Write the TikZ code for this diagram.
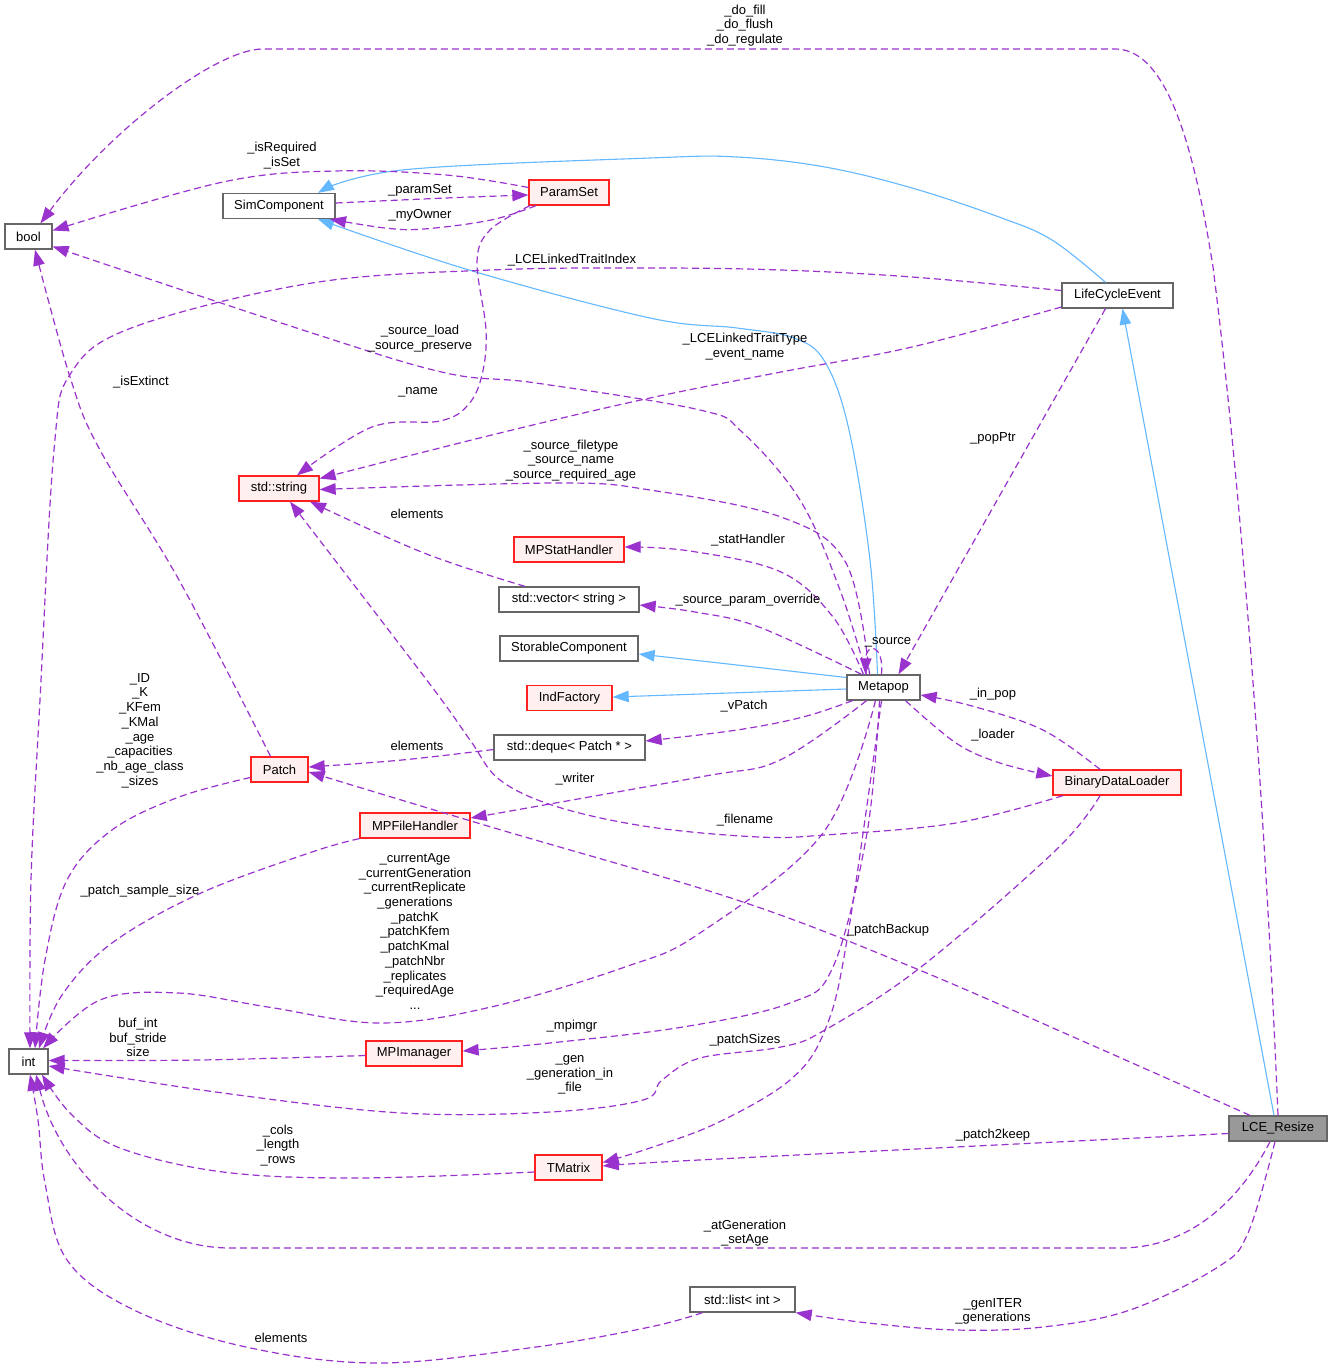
\documentclass[tikz,border=0pt]{standalone}
\usepackage{fontspec}
\setmainfont{Liberation Sans}
\usetikzlibrary{arrows.meta,calc}
\definecolor{purp}{HTML}{9A32CD}
\definecolor{inh}{HTML}{63B8FF}
\definecolor{bordergray}{HTML}{666666}
\definecolor{redfill}{HTML}{FFF0F0}
\definecolor{redline}{HTML}{FF2020}
\definecolor{lcefill}{HTML}{999999}
\begin{document}
\begin{tikzpicture}[x=1pt,y=-1pt,
  box/.style={draw=bordergray, line width=1.3pt, fill=white, minimum height=25pt, inner sep=0pt, font=\fontsize{13}{15}\selectfont},
  rbox/.style={box, draw=redline, fill=redfill},
  gbox/.style={box, fill=lcefill},
  pe/.style={draw=purp, line width=1.2pt, dash pattern=on 7pt off 4pt, -{Triangle[length=16pt,width=11.5pt]}},
  be/.style={draw=inh, line width=1.1pt, -{Triangle[length=16pt,width=11.5pt]}},
  lbl/.style={align=center, inner sep=0pt, font=\fontsize{13}{14.7}\selectfont}]
\useasboundingbox (0,0) rectangle (1332,1370);
\fill[white] (0,0) rectangle (1332,1370);

% ---------- nodes ----------
\node[box, minimum width=47pt] (bool) at (28.5,236.5) {bool};
\node[box, minimum width=112pt] (SC) at (279,206) {SimComponent};
\node[rbox, minimum width=80pt] (PS) at (569,192.5) {ParamSet};
\node[box, minimum width=111pt] (LCEv) at (1117.5,295.5) {LifeCycleEvent};
\node[rbox, minimum width=80pt] (str) at (279,488.5) {std::string};
\node[rbox, minimum width=110pt] (MPS) at (569,549.5) {MPStatHandler};
\node[box, minimum width=140pt] (vec) at (569,599.5) {std::vector< string >};
\node[box, minimum width=138pt] (sto) at (569,648.5) {StorableComponent};
\node[rbox, minimum width=85pt] (IF) at (569.5,698) {IndFactory};
\node[box, minimum width=151pt] (dq) at (569.5,747.5) {std::deque< Patch * >};
\node[box, minimum width=73pt] (MP) at (883.5,687.5) {Metapop};
\node[rbox, minimum width=128pt] (BDL) at (1117,782.5) {BinaryDataLoader};
\node[rbox, minimum width=57pt] (Patch) at (279.5,769.5) {Patch};
\node[rbox, minimum width=110pt] (MFH) at (415,825.5) {MPFileHandler};
\node[box, minimum width=39pt] (int) at (28.5,1061.5) {int};
\node[rbox, minimum width=96pt] (MPI) at (414,1053.5) {MPImanager};
\node[rbox, minimum width=67pt] (TM) at (568.5,1167.5) {TMatrix};
\node[gbox, minimum width=98pt] (LCER) at (1278,1128.5) {LCE\_Resize};
\node[box, minimum width=105pt] (lst) at (742.5,1299.5) {std::list< int >};

% ---------- inheritance (blue) ----------
\draw[be] plot[smooth, tension=0.6] coordinates {([xshift=-12pt]LCEv.north) (1052,240) (999,217) (912,188) (825,167) (737,157) (650,158) (402,170) ([xshift=39pt]SC.north)};
\draw[be] plot[smooth, tension=0.6] coordinates {([xshift=-6pt]MP.north) (870,560) (849,430) (825,362) (794,338) (737,328) (650,318) (469,270) ([xshift=39pt]SC.south)};
\draw[be] plot[smooth, tension=0.6] coordinates {([yshift=10pt]MP.west) (737,665) ([yshift=-5.5pt]sto.east)};
\draw[be] ([yshift=-1.5pt]MP.west) -- ([yshift=1pt]IF.east);
\draw[be] ([xshift=-4pt]LCER.north) -- ([xshift=5pt]LCEv.south);

% ---------- usage (purple dashed) ----------
% LCE_Resize -> bool
\draw[pe] (LCER.north) .. controls (1265,800) and (1240,480) .. (1213,267)
  .. controls (1190,120) and (1160,49) .. (1115,49) -- (262,49)
  .. controls (215,50) and (110,130) .. ([xshift=12pt]bool.north);
% ParamSet -> bool
\draw[pe] plot[smooth, tension=0.6] coordinates {([yshift=5pt]PS.west) (446,175) (335,171) (223,182) ([yshift=6pt]bool.east)};
% SimComponent -> ParamSet
\draw[pe] plot[smooth, tension=0.6] coordinates {([yshift=3pt]SC.east) (446,198) ([yshift=-2.5pt]PS.west)};
% ParamSet -> SimComponent
\draw[pe] plot[smooth, tension=0.6] coordinates {([xshift=-33pt]PS.south) (491,220) (424,229) (385,228) ([xshift=51pt]SC.south)};
% LifeCycleEvent -> int
\draw[pe] plot[smooth, tension=0.6] coordinates {([yshift=5pt]LCEv.west) (912,277) (781,270) (650,268) (491,270) (312,283) (134,327) (71,373) (54,450) (40,700) (31,880) ([xshift=1.5pt]int.north)};
% LifeCycleEvent -> string
\draw[pe] plot[smooth, tension=0.6] coordinates {([yshift=-11.5pt]LCEv.west) (912,347) (781,372) (650,398) (504,432) ([yshift=10pt]str.east)};
% ParamSet -> string (_name)
\draw[pe] plot[smooth, tension=0.6] coordinates {([xshift=-39pt]PS.south) (490,230) (477,262) (486,330) (482,375) (468,405) (440,421) (372,427) ([xshift=18pt]str.north)};
% Metapop -> bool
\draw[pe] plot[smooth, tension=0.6] coordinates {([xshift=-17pt]MP.north) (840,590) (800,500) (742,432) (700,410) (536,383) (446,373) (312,333) ([yshift=-10pt]bool.east)};
% Metapop -> string
\draw[pe] plot[smooth, tension=0.6] coordinates {([xshift=-14pt]MP.north) (846,563) (781,517) (650,490) (558,483) ([yshift=-1pt]str.east)};
% Metapop -> MPStatHandler
\draw[pe] plot[smooth, tension=0.6] coordinates {([xshift=-20pt]MP.north) (833,617) (781,572) (690,551) ([yshift=2.5pt]MPS.east)};
% Metapop -> vector
\draw[pe] plot[smooth, tension=0.6] coordinates {([xshift=-22pt]MP.north) (759,627) (695,612) ([yshift=-5.5pt]vec.east)};
% vector -> string
\draw[pe] plot[smooth, tension=0.6] coordinates {([xshift=-44pt]vec.north) (424,553) ([xshift=31pt]str.south)};
% Metapop self loop
\draw[pe] ([xshift=-2pt]MP.north) .. controls (884,643) and (866,643) .. ([xshift=-18pt]MP.north);
% LifeCycleEvent -> Metapop
\draw[pe] ([xshift=-12pt]LCEv.south) -- ([xshift=15pt]MP.north);
% Metapop -> deque
\draw[pe] plot[smooth, tension=0.6] coordinates {([xshift=-31pt]MP.south) (803,717) (737,730) ([yshift=6.5pt]dq.east)};
% Metapop -> MPFileHandler
\draw[pe] plot[smooth, tension=0.6] coordinates {([xshift=-17pt]MP.south) (780,760) (700,777) ([yshift=7.5pt]MFH.east)};
% Metapop -> int
\draw[pe] plot[smooth, tension=0.6] coordinates {([xshift=-8pt]MP.south) (823,833) (700,933) (625,967) (491,1007) (380,1023) (268,1007) (178,993) (100,1000) ([xshift=14.5pt]int.north)};
% Metapop -> MPImanager
\draw[pe] plot[smooth, tension=0.6] coordinates {([xshift=-4pt]MP.south) (867,833) (833,967) (790,1003) (683,1027) (550,1043) ([yshift=2.5pt]MPI.east)};
% Metapop -> TMatrix
\draw[pe] plot[smooth, tension=0.6] coordinates {([xshift=-2pt]MP.south) (847,940) (825,1030) (790,1080) (717,1123) (650,1148) ([yshift=5pt]TM.east)};
% BinaryDataLoader -> Metapop
\draw[pe] plot[smooth, tension=0.6] coordinates {([xshift=-17pt]BDL.north) (1043,730) (972,706) ([yshift=-7.5pt]MP.east)};
% Metapop -> BinaryDataLoader
\draw[pe] plot[smooth, tension=0.6] coordinates {([xshift=22pt]MP.south) (956,743) (1000,763) ([yshift=6.5pt]BDL.west)};
% BinaryDataLoader -> string
\draw[pe] plot[smooth, tension=0.6] coordinates {([xshift=-54pt]BDL.south) (956,823) (825,835) (759,837) (650,827) (558,807) (500,780) (470,740) (429,683) ([xshift=11pt]str.south)};
% BinaryDataLoader -> int
\draw[pe] plot[smooth, tension=0.6] coordinates {([xshift=-17pt]BDL.south) (1056,850) (921,967) (825,1030) (781,1047) (700,1058) (662,1080) (643,1100) (550,1112) (402,1113) (223,1093) ([yshift=-4.5pt]int.east)};
% MPImanager -> int
\draw[pe] plot[smooth, tension=0.6] coordinates {([yshift=-2pt]MPI.west) (200,1060) ([yshift=1pt]int.east)};
% TMatrix -> int
\draw[pe] plot[smooth, tension=0.6] coordinates {([yshift=-4.5pt]TM.west) (357,1178) (223,1172) (120,1148) (72,1115) ([xshift=13.5pt]int.south)};
% LCE_Resize -> int
\draw[pe] ([xshift=-8pt]LCER.south) .. controls (1240,1200) and (1190,1248) .. (1120,1248) -- (230,1248)
  .. controls (140,1248) and (60,1170) .. ([xshift=7.5pt]int.south);
% list -> int
\draw[pe] plot[smooth, tension=0.6] coordinates {([xshift=-40pt]lst.south) (650,1327) (536,1347) (379,1363) (246,1347) (134,1310) (67,1260) (45,1183) (38,1120) ([xshift=1.5pt]int.south)};
% LCE_Resize -> list
\draw[pe] plot[smooth, tension=0.6] coordinates {([xshift=-3pt]LCER.south) (1248,1233) (1218,1267) (1130,1310) (1043,1327) (956,1330) (868,1323) (lst.south east)};
% LCE_Resize -> TMatrix
\draw[pe] plot[smooth, tension=0.6] coordinates {([yshift=-5pt]LCER.west) (956,1147) (680,1161) ([yshift=1.5pt]TM.east)};
% LCE_Resize -> Patch
\draw[pe] plot[smooth, tension=0.6] coordinates {([xshift=-28pt]LCER.north) (1087,1043) (912,967) (737,900) (491,827) ([yshift=-2.5pt]Patch.east)};
% Patch -> int
\draw[pe] plot[smooth, tension=0.6] coordinates {([yshift=-8pt]Patch.west) (179,797) (112,830) (67,880) (45,960) ([xshift=6.5pt]int.north)};
% MPFileHandler -> int
\draw[pe] plot[smooth, tension=0.6] coordinates {(MFH.south west) (312,852) (201,893) (112,943) (62,995) ([xshift=10.5pt]int.north)};
% Patch -> bool
\draw[pe] plot[smooth, tension=0.6] coordinates {([xshift=-9pt]Patch.north) (179,580) (100,450) (70,377) ([xshift=6.5pt]bool.south)};
% deque -> Patch
\draw[pe] plot[smooth, tension=0.6] coordinates {([yshift=-2pt]dq.west) (402,760) ([yshift=2.5pt]Patch.east)};

% ---------- labels ----------
\node[lbl] (l1) at (745,25.5) {\_do\_fill\\\_do\_flush\\\_do\_regulate};
\node[lbl] (l2) at (282,155.5) {\_isRequired\\\_isSet};
\node[lbl] (l3) at (420,190) {\_paramSet};
\node[lbl] (l4) at (420,215) {\_myOwner};
\node[lbl] (l5) at (572,260) {\_LCELinkedTraitIndex};
\node[lbl] (l6) at (420,338.5) {\_source\_load\\\_source\_preserve};
\node[lbl] (l7) at (745,346.5) {\_LCELinkedTraitType\\\_event\_name};
\node[lbl] (l8) at (141,382) {\_isExtinct};
\node[lbl] (l9) at (418,392) {\_name};
\node[lbl] (l10) at (993,438) {\_popPtr};
\node[lbl] (l11) at (571,460.5) {\_source\_filetype\\\_source\_name\\\_source\_required\_age};
\node[lbl] (l12) at (417,514) {elements};
\node[lbl] (l13) at (748,540) {\_statHandler};
\node[lbl] (l14) at (748,600) {\_source\_param\_override};
\node[lbl] (l15) at (888,642) {\_source};
\node[lbl] (l16) at (140,730.5) {\_ID\\\_K\\\_KFem\\\_KMal\\\_age\\\_capacities\\\_nb\_age\_class\\\_sizes};
\node[lbl] (l17) at (993,694) {\_in\_pop};
\node[lbl] (l18) at (744,706) {\_vPatch};
\node[lbl] (l19) at (993,735) {\_loader};
\node[lbl] (l20) at (417,746) {elements};
\node[lbl] (l21) at (575,779) {\_writer};
\node[lbl] (l22) at (745,820) {\_filename};
\node[lbl] (l23) at (415,931.5) {\_currentAge\\\_currentGeneration\\\_currentReplicate\\\_generations\\\_patchK\\\_patchKfem\\\_patchKmal\\\_patchNbr\\\_replicates\\\_requiredAge\\...};
\node[lbl] (l24) at (140,891) {\_patch\_sample\_size};
\node[lbl] (l25) at (888,930) {\_patchBackup};
\node[lbl] (l26) at (138,1037.5) {buf\_int\\buf\_stride\\size};
\node[lbl] (l27) at (572,1026) {\_mpimgr};
\node[lbl] (l28) at (745,1040) {\_patchSizes};
\node[lbl] (l29) at (570,1075) {\_gen\\\_generation\_in\\\_file};
\node[lbl] (l30) at (278,1145.5) {\_cols\\\_length\\\_rows};
\node[lbl] (l31) at (993,1135) {\_patch2keep};
\node[lbl] (l32) at (745,1233) {\_atGeneration\\\_setAge};
\node[lbl] (l33) at (993,1311.5) {\_genITER\\\_generations};
\node[lbl] (l34) at (281,1338) {elements};
\end{tikzpicture}
\end{document}
